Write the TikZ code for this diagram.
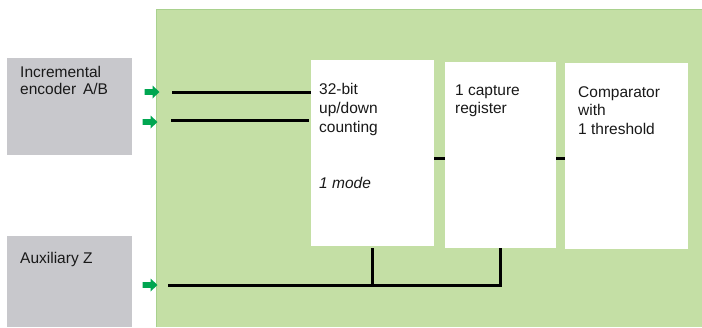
\documentclass[tikz,border=0pt]{standalone}
\usepackage{fontspec}
\setmainfont{Liberation Sans}
\begin{document}
\begin{tikzpicture}[x=1pt,y=-1pt,
  txt/.style={font=\fontsize{15.5}{19}\selectfont, text=black!90, inner sep=0pt, anchor=base west, align=left},
  graybox/.style={fill=boxgray, draw=none, minimum width=125pt, inner sep=0pt},
  whitebox/.style={fill=white, draw=none, inner sep=0pt, minimum height=186pt},
  wire/.style={line width=3pt, black},
  inarrow/.pic={\fill[arrowgreen] (-7.5,-2.8) -- (0.5,-2.8) -- (0.5,-6.5) -- (7.5,0) -- (0.5,6.5) -- (0.5,2.8) -- (-7.5,2.8) -- cycle;}
]
\definecolor{boxgray}{HTML}{C8C8CC}
\definecolor{panelgreen}{HTML}{C4DFA5}
\definecolor{paneledge}{HTML}{A9D18E}
\definecolor{arrowgreen}{HTML}{00A651}
\useasboundingbox (0,0) rectangle (702,327);
% panel
\fill[panelgreen] (156,9) rectangle (702,327);
\draw[paneledge, line width=1pt] (156,327) -- (156,9.5) -- (702,9.5);
% input boxes
\node[graybox, minimum height=97pt] (enc) at (69.5,106.5) {};
\node[graybox, minimum height=91pt] (aux) at (69.5,281.5) {};
\node[txt, font=\fontsize{15.5}{16.5}\selectfont] (enctxt) at (20,94) {Incremental\\encoder\, A/B};
\node[txt] (auxtxt) at (20,263) {Auxiliary Z};
% function boxes
\node[whitebox, minimum width=123pt] (cnt) at (372.5,153) {};
\node[whitebox, minimum width=111pt] (cap) at (500.5,155) {};
\node[whitebox, minimum width=123pt] (cmp) at (626.5,156) {};
\node[txt] (cnttxt) at (319,132) {32-bit\\up/down\\counting};
\node[txt, font=\fontsize{15.5}{19}\selectfont\itshape] (modetxt) at (319,188) {1 mode};
\node[txt, font=\fontsize{15.5}{17.7}\selectfont] (captxt) at (455,113.5) {1 capture\\register};
\node[txt, font=\fontsize{15.5}{18.5}\selectfont] (cmptxt) at (578,134) {Comparator\\with\\1 threshold};
% input arrows
\pic at (152,92) {inarrow};
\pic at (150,122) {inarrow};
\pic at (150,285) {inarrow};
% wires
\coordinate (ina) at (172,92);
\coordinate (inb) at (171,120);
\coordinate (inz) at (168,285);
\draw[wire] (ina) -- (ina -| cnt.west);
\draw[wire] (inb) -- ([xshift=-2pt]inb -| cnt.west);
\draw[wire] ([yshift=-5pt]cnt.east) -- ([yshift=-5pt]cnt.east -| cap.west);
\draw[wire] ([yshift=-3pt]cap.east) -- ([yshift=-3pt]cap.east -| cmp.west);
\draw[wire] (inz) -- (inz -| cap.south) -- (cap.south);
\draw[wire] (inz -| cnt.south) -- ([yshift=-2pt]cnt.south);
\end{tikzpicture}
\end{document}
